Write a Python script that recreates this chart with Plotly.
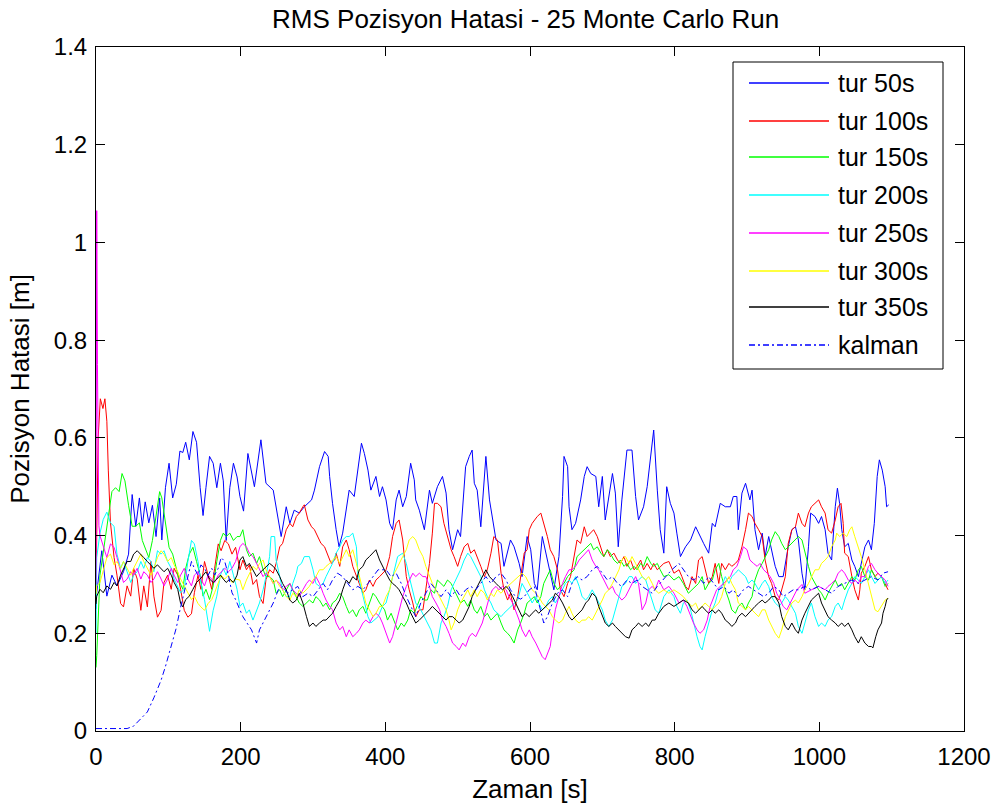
import plotly.graph_objects as go

# ---------------- data ----------------
tur50_x = [0, 1, 8, 15, 22, 29, 38, 45, 50, 55, 60, 64, 68, 73, 78, 83, 88, 91, 96, 101, 106, 111, 116, 120, 124, 129, 134, 139, 144, 148, 152, 157, 162, 167, 172, 176, 180, 185, 190, 195,
           199, 204, 210, 219, 228, 235, 245, 249, 256, 263, 268, 274, 281, 288, 298, 302, 309, 316, 321, 323, 327, 332, 336, 341, 346, 350, 357, 362, 367, 371, 376, 380, 387,
           392, 396, 401, 406, 410, 415, 419, 424, 429, 435, 440, 442, 447, 454, 461, 465, 472, 479, 484, 488, 493, 500, 504, 511, 516, 520, 523, 527, 532, 539, 544, 548, 553, 560, 564, 573, 578,
           585, 589, 596, 601, 606, 610, 617, 622, 629, 633, 640, 645, 647, 652, 654, 658, 663, 670, 675, 679, 684, 691, 695, 700, 704, 709, 714, 718, 722, 727, 734, 741, 746, 750, 757, 762, 767, 771, 776,
           780, 785, 789, 794, 799, 803, 808, 815, 822, 829, 833, 840, 847, 852, 856, 863, 870, 877, 881, 886, 888, 893, 898, 904, 907, 911, 916, 921, 925, 930, 937, 939, 944, 950, 957, 962, 967,
           971, 976, 980, 985, 988, 994, 999, 1003, 1008, 1012, 1017, 1022, 1025, 1028, 1031, 1035, 1040, 1045, 1049, 1054, 1058, 1063, 1068, 1072, 1076, 1080, 1083, 1087, 1091, 1093, 1096]
tur50_y = [0.25, 0.283, 0.369, 0.276, 0.319, 0.297, 0.326, 0.362, 0.484, 0.419, 0.477, 0.419, 0.469, 0.426, 0.462, 0.398, 0.477, 0.391, 0.498, 0.548, 0.477, 0.505, 0.573, 0.570, 0.591, 0.555, 0.613, 0.591, 0.498, 0.441, 0.498, 0.562, 0.548, 0.498, 0.548, 0.512, 0.39, 0.498, 0.548, 0.52,
           0.48, 0.45, 0.568, 0.50, 0.596, 0.507, 0.493, 0.459, 0.398, 0.459, 0.425, 0.452, 0.446, 0.459, 0.473, 0.493, 0.541, 0.572, 0.562, 0.521, 0.466, 0.412, 0.377, 0.405, 0.459, 0.493, 0.48, 0.534, 0.589, 0.568, 0.534, 0.493, 0.521,
           0.48, 0.50, 0.473, 0.425, 0.412, 0.473, 0.493, 0.459, 0.48, 0.548, 0.514, 0.473, 0.452, 0.412, 0.493, 0.466, 0.50, 0.521, 0.487, 0.412, 0.371, 0.412, 0.398, 0.541, 0.562, 0.575, 0.507, 0.493, 0.418, 0.562, 0.473, 0.439, 0.391, 0.384, 0.337, 0.391, 0.377,
           0.343, 0.316, 0.398, 0.371, 0.302, 0.289, 0.398, 0.364, 0.316, 0.289, 0.357, 0.48, 0.562, 0.541, 0.459, 0.412, 0.425, 0.473, 0.521, 0.541, 0.527, 0.521, 0.459, 0.521, 0.432, 0.48, 0.527, 0.487, 0.377, 0.473, 0.575, 0.575, 0.48, 0.432, 0.459, 0.50, 0.562, 0.616, 0.493,
           0.412, 0.364, 0.50, 0.466, 0.446, 0.405, 0.357, 0.377, 0.391, 0.418, 0.405, 0.384, 0.364, 0.425, 0.418, 0.466, 0.459, 0.459, 0.48, 0.48, 0.412, 0.487, 0.507, 0.473, 0.493, 0.412, 0.371, 0.405, 0.357, 0.398, 0.35, 0.337, 0.316, 0.316, 0.377, 0.412, 0.418,
           0.391, 0.323, 0.289, 0.377, 0.446, 0.439, 0.425, 0.439, 0.412, 0.364, 0.35, 0.459, 0.497, 0.466, 0.412, 0.377, 0.384, 0.35, 0.337, 0.316, 0.343, 0.377, 0.391, 0.371, 0.425, 0.521, 0.555, 0.534, 0.50, 0.459, 0.463]

tur100_x = [0, 3, 6, 9.6, 12.3, 15, 17, 20, 25, 29, 34, 38, 43, 48, 52, 57, 62, 66, 71, 76, 80, 85, 90, 94, 99, 104, 108, 113, 117, 122, 127, 132, 136, 141, 145, 150, 155, 160, 164, 169, 173, 178, 183, 188, 193,
            199, 203, 208, 212, 217, 222, 226, 231, 235, 240, 245, 249, 254, 258, 263, 268, 272, 277, 281, 286, 288, 293, 298, 302, 307, 311, 316, 321, 325, 330, 332, 337, 341, 346, 350, 355, 360, 364, 369, 373, 378, 383, 387,
            392, 401, 406, 410, 415, 419, 424, 429, 433, 438, 442, 447, 452, 456, 461, 465, 468, 472, 477, 481, 486, 491, 495, 500, 504, 509, 514, 518, 523, 527, 532, 537, 541, 546, 550, 555, 560, 564, 569, 573, 578, 583, 587, 592, 596,
            599, 603, 610, 615, 619, 624, 628, 633, 638, 642, 647, 652, 656, 661, 665, 670, 675, 679, 684, 688, 693, 698, 702, 707, 711, 716, 721, 725, 730, 734, 739, 744, 748, 753, 757, 762, 767, 771, 776,
            785, 792, 799, 806, 810, 815, 819, 824, 829, 833, 838, 842, 847, 852, 856, 861, 865, 870, 875, 879, 884, 888, 893, 898, 902, 907, 911, 916, 921, 925, 930, 934, 939, 944, 948, 953, 957, 962, 967,
            971, 976, 980, 985, 989, 994, 999, 1003, 1008, 1012, 1017, 1022, 1026, 1030, 1033, 1035, 1040, 1045, 1049, 1054, 1056, 1058, 1063, 1068, 1072, 1077, 1081, 1086, 1091, 1095]
tur100_y = [0.3, 0.6, 0.68, 0.66, 0.68, 0.634, 0.534, 0.426, 0.355, 0.319, 0.261, 0.254, 0.297, 0.276, 0.333, 0.311, 0.247, 0.297, 0.254, 0.347, 0.276, 0.233, 0.247, 0.304, 0.319, 0.29, 0.333, 0.319, 0.29, 0.247, 0.233, 0.24, 0.283, 0.319, 0.29, 0.347, 0.319, 0.29, 0.333, 0.383, 0.369, 0.39, 0.383, 0.362, 0.376,
            0.33, 0.35, 0.33, 0.34, 0.30, 0.31, 0.275, 0.261, 0.31, 0.33, 0.323, 0.343, 0.377, 0.384, 0.412, 0.425, 0.418, 0.439, 0.446, 0.459, 0.463, 0.432, 0.418, 0.412, 0.398, 0.384, 0.377, 0.357, 0.343, 0.35, 0.364, 0.337, 0.377, 0.391, 0.371, 0.337, 0.316, 0.302, 0.282, 0.289, 0.309, 0.296, 0.309,
            0.316, 0.33, 0.357, 0.398, 0.425, 0.432, 0.391, 0.316, 0.289, 0.262, 0.234, 0.248, 0.248, 0.289, 0.343, 0.405, 0.466, 0.466, 0.459, 0.425, 0.398, 0.371, 0.357, 0.337, 0.357, 0.377, 0.384, 0.364, 0.371, 0.357, 0.337, 0.316, 0.33, 0.364, 0.398, 0.391, 0.323, 0.289, 0.268, 0.282, 0.248, 0.275, 0.316, 0.364, 0.371,
            0.412, 0.425, 0.439, 0.446, 0.425, 0.398, 0.371, 0.357, 0.33, 0.289, 0.275, 0.302, 0.316, 0.357, 0.391, 0.384, 0.418, 0.398, 0.405, 0.412, 0.398, 0.377, 0.357, 0.371, 0.357, 0.364, 0.35, 0.343, 0.357, 0.337, 0.35, 0.33, 0.337, 0.35, 0.33, 0.343, 0.33, 0.343, 0.33,
            0.343, 0.347, 0.323, 0.33, 0.316, 0.296, 0.289, 0.316, 0.302, 0.35, 0.357, 0.33, 0.302, 0.316, 0.343, 0.302, 0.343, 0.33, 0.343, 0.337, 0.343, 0.35, 0.377, 0.412, 0.446, 0.439, 0.425, 0.412, 0.398, 0.35, 0.316, 0.302, 0.275, 0.268, 0.289, 0.316, 0.384, 0.412, 0.418,
            0.446, 0.425, 0.418, 0.446, 0.459, 0.466, 0.473, 0.459, 0.446, 0.412, 0.405, 0.432, 0.459, 0.466, 0.425, 0.364, 0.357, 0.316, 0.289, 0.268, 0.289, 0.323, 0.337, 0.357, 0.33, 0.316, 0.323, 0.316, 0.302, 0.289]

tur150_x = [0, 1, 5.5, 12, 17, 22, 27, 32, 36, 40, 45, 50, 55, 60, 64, 68, 73, 78, 83, 88, 91, 96, 101, 106, 111, 116, 120, 124, 129, 134, 139, 144, 148, 152, 157, 162, 167, 172, 176, 180, 185, 190, 195,
            199, 203, 208, 212, 217, 222, 226, 231, 235, 240, 245, 249, 254, 258, 263, 268, 272, 277, 281, 286, 291, 295, 300, 304, 309, 314, 318, 323, 327, 332, 337, 341, 346, 350, 355, 360, 364, 369, 373, 378, 383, 387,
            392, 399, 403, 408, 412, 417, 422, 426, 431, 435, 440, 445, 449, 454, 458, 463, 468, 472, 477, 481, 486, 491, 495, 500, 504, 509, 514, 518, 523, 527, 532, 537, 541, 546, 550, 555, 560, 564, 569, 573, 578, 583,
            587, 592, 596, 601, 606, 610, 615, 619, 624, 628, 633, 638, 642, 647, 652, 656, 661, 665, 670, 675, 679, 684, 688, 693, 698, 702, 707, 711, 716, 721, 725, 730, 734, 739, 744, 748, 753, 757, 762, 767, 771, 776,
            780, 785, 792, 799, 806, 812, 819, 824, 829, 833, 838, 842, 847, 852, 856, 861, 865, 870, 875, 879, 884, 888, 893, 898, 902, 907, 911, 916, 921, 925, 930, 934, 939, 944, 948, 953, 957, 962, 967,
            971, 976, 980, 985, 989, 994, 999, 1003, 1008, 1012, 1017, 1022, 1026, 1031, 1035, 1040, 1045, 1049, 1054, 1058, 1063, 1068, 1072, 1077, 1081, 1086, 1091, 1095]
tur150_y = [0.13, 0.154, 0.319, 0.39, 0.44, 0.49, 0.498, 0.49, 0.527, 0.512, 0.462, 0.419, 0.419, 0.426, 0.39, 0.376, 0.355, 0.39, 0.44, 0.49, 0.477, 0.426, 0.376, 0.362, 0.333, 0.304, 0.29, 0.333, 0.362, 0.376, 0.347, 0.319, 0.276, 0.29, 0.269, 0.297, 0.347, 0.39, 0.405, 0.398, 0.405, 0.39, 0.398,
            0.398, 0.412, 0.371, 0.357, 0.364, 0.343, 0.357, 0.33, 0.316, 0.316, 0.309, 0.282, 0.289, 0.275, 0.289, 0.302, 0.289, 0.275, 0.262, 0.255, 0.262, 0.268, 0.262, 0.275, 0.268, 0.255, 0.262, 0.248, 0.262, 0.268, 0.282, 0.275, 0.255, 0.241, 0.248, 0.234, 0.248, 0.255, 0.241, 0.262, 0.282, 0.275,
            0.262, 0.248, 0.227, 0.241, 0.227, 0.207, 0.221, 0.214, 0.227, 0.248, 0.241, 0.262, 0.275, 0.268, 0.268, 0.289, 0.282, 0.309, 0.302, 0.296, 0.309, 0.302, 0.289, 0.275, 0.262, 0.268, 0.255, 0.268, 0.248, 0.241, 0.255, 0.234, 0.241, 0.227, 0.234, 0.241, 0.221, 0.207, 0.2, 0.193, 0.18, 0.207,
            0.221, 0.241, 0.262, 0.268, 0.275, 0.262, 0.275, 0.302, 0.316, 0.33, 0.302, 0.289, 0.296, 0.302, 0.316, 0.323, 0.33, 0.357, 0.364, 0.371, 0.377, 0.384, 0.371, 0.377, 0.364, 0.357, 0.371, 0.364, 0.35, 0.343, 0.35, 0.337, 0.343, 0.33, 0.337, 0.33, 0.343, 0.337, 0.357, 0.343, 0.337, 0.343,
            0.33, 0.316, 0.32, 0.309, 0.316, 0.302, 0.282, 0.289, 0.296, 0.302, 0.316, 0.289, 0.302, 0.309, 0.33, 0.343, 0.316, 0.289, 0.268, 0.248, 0.241, 0.255, 0.262, 0.248, 0.262, 0.275, 0.309, 0.33, 0.343, 0.357, 0.371, 0.391, 0.408, 0.398, 0.384, 0.371, 0.377, 0.384, 0.391,
            0.398, 0.391, 0.364, 0.337, 0.316, 0.302, 0.289, 0.282, 0.268, 0.282, 0.296, 0.309, 0.296, 0.302, 0.289, 0.302, 0.316, 0.309, 0.33, 0.337, 0.316, 0.309, 0.33, 0.316, 0.309, 0.316, 0.296, 0.302]

tur200_x = [0, 1, 5.5, 10, 15, 20, 25, 29, 34, 38, 43, 48, 52, 57, 62, 66, 71, 76, 80, 85, 90, 94, 99, 104, 108, 113, 117, 122, 127, 132, 136, 141, 145, 150, 155, 157, 162, 167, 172, 176, 180, 185, 190, 195,
            199, 203, 208, 212, 217, 222, 226, 231, 235, 240, 242, 247, 249, 254, 258, 263, 268, 272, 277, 279, 284, 288, 295, 300, 304, 309, 314, 318, 323, 327, 332, 337, 341, 346, 350, 355, 360, 362, 367, 371, 376, 380, 385, 390,
            396, 401, 406, 410, 417, 424, 429, 433, 438, 442, 449, 456, 463, 468, 472, 477, 481, 486, 491, 495, 500, 504, 509, 514, 518, 523, 527, 532, 537, 541, 546, 550, 555, 560, 564, 569, 573, 578, 583,
            589, 594, 599, 603, 608, 612, 617, 622, 626, 631, 635, 640, 645, 649, 654, 658, 663, 668, 672, 677, 681, 686, 691, 695, 700, 704, 709, 714, 718, 723, 727, 732, 737, 741, 746, 750, 755, 760, 764, 769, 773, 778,
            785, 792, 799, 803, 808, 812, 817, 822, 826, 831, 835, 838, 842, 847, 852, 856, 861, 865, 870, 875, 879, 884, 888, 893, 898, 902, 907, 911, 916, 921, 925, 930, 934, 939, 944, 948, 953, 957, 962, 967,
            971, 976, 980, 985, 989, 994, 999, 1003, 1008, 1012, 1017, 1022, 1026, 1031, 1035, 1040, 1045, 1049, 1054, 1058, 1063, 1068, 1072, 1077, 1081, 1086, 1091, 1095]
tur200_y = [0.2, 0.355, 0.405, 0.433, 0.448, 0.426, 0.419, 0.362, 0.333, 0.347, 0.326, 0.304, 0.319, 0.326, 0.347, 0.333, 0.355, 0.347, 0.326, 0.369, 0.362, 0.369, 0.347, 0.333, 0.311, 0.297, 0.283, 0.29, 0.347, 0.39, 0.383, 0.347, 0.304, 0.269, 0.218, 0.204, 0.247, 0.276, 0.319, 0.333, 0.319, 0.347, 0.319, 0.29,
            0.255, 0.262, 0.241, 0.248, 0.227, 0.248, 0.262, 0.289, 0.316, 0.357, 0.398, 0.398, 0.35, 0.316, 0.289, 0.275, 0.275, 0.302, 0.323, 0.337, 0.343, 0.357, 0.357, 0.33, 0.302, 0.296, 0.302, 0.316, 0.33, 0.343, 0.364, 0.377, 0.391, 0.398, 0.398, 0.405, 0.377, 0.323, 0.289, 0.262, 0.234, 0.221, 0.227, 0.234,
            0.255, 0.262, 0.29, 0.316, 0.357, 0.364, 0.343, 0.316, 0.289, 0.262, 0.248, 0.227, 0.207, 0.18, 0.18, 0.221, 0.234, 0.255, 0.289, 0.302, 0.316, 0.33, 0.35, 0.364, 0.357, 0.343, 0.33, 0.316, 0.289, 0.275, 0.262, 0.248, 0.241, 0.234, 0.241, 0.248, 0.255, 0.262, 0.268,
            0.302, 0.289, 0.275, 0.262, 0.275, 0.262, 0.248, 0.255, 0.268, 0.275, 0.262, 0.275, 0.289, 0.302, 0.309, 0.302, 0.316, 0.296, 0.275, 0.268, 0.275, 0.289, 0.275, 0.262, 0.248, 0.227, 0.214, 0.227, 0.248, 0.275, 0.296, 0.302, 0.316, 0.316, 0.302, 0.309, 0.316, 0.309, 0.289, 0.268, 0.248, 0.241,
            0.275, 0.289, 0.275, 0.255, 0.241, 0.262, 0.268, 0.248, 0.221, 0.193, 0.173, 0.166, 0.193, 0.221, 0.248, 0.262, 0.289, 0.296, 0.316, 0.302, 0.316, 0.323, 0.33, 0.323, 0.316, 0.302, 0.309, 0.302, 0.289, 0.302, 0.309, 0.296, 0.275, 0.262, 0.255, 0.262, 0.275, 0.268, 0.255, 0.241,
            0.214, 0.2, 0.221, 0.248, 0.262, 0.234, 0.214, 0.221, 0.214, 0.227, 0.234, 0.255, 0.262, 0.248, 0.268, 0.289, 0.302, 0.316, 0.309, 0.302, 0.316, 0.33, 0.316, 0.302, 0.309, 0.316, 0.302, 0.309]

tur250_x = [0, 1, 2, 4, 5.5, 10, 15, 20, 25, 29, 34, 38, 43, 48, 52, 57, 62, 66, 71, 76, 80, 85, 90, 94, 99, 104, 108, 113, 117, 122, 127, 132, 136, 141, 145, 150, 155, 160, 164, 169, 173, 178, 183, 188, 193,
            199, 203, 208, 212, 217, 222, 226, 231, 235, 240, 245, 249, 254, 258, 263, 268, 272, 277, 281, 286, 291, 295, 300, 304, 309, 314, 318, 323, 327, 332, 337, 341, 346, 350, 355, 360, 364, 369, 373, 378, 383, 387,
            392, 396, 401, 406, 410, 415, 419, 424, 429, 433, 438, 442, 447, 452, 456, 461, 465, 470, 475, 479, 484, 488, 493, 498, 502, 507, 511, 516, 520, 525, 530, 534, 539, 544, 548, 553, 557, 562, 567, 571, 576, 580,
            585, 589, 594, 599, 603, 608, 612, 617, 621, 624, 628, 631, 635, 640, 645, 649, 654, 658, 663, 668, 672, 677, 681, 686, 691, 695, 700, 704, 709, 714, 718, 723, 727, 732, 737, 741, 746, 750, 755, 760, 764, 769, 773,
            778, 785, 792, 799, 806, 812, 817, 822, 826, 831, 835, 840, 845, 849, 854, 858, 863, 868, 872, 877, 881, 886, 891, 895, 900, 904, 909, 914, 918, 923, 928, 932, 937, 941, 946, 950, 955, 960, 964, 969,
            976, 980, 989, 999, 1008, 1012, 1017, 1022, 1026, 1031, 1035, 1040, 1045, 1049, 1054, 1058, 1063, 1068, 1072, 1077, 1081, 1086, 1091, 1095]
tur250_y = [0.3, 1.065, 0.75, 0.42, 0.40, 0.376, 0.355, 0.383, 0.376, 0.355, 0.326, 0.304, 0.311, 0.326, 0.319, 0.333, 0.311, 0.326, 0.319, 0.304, 0.311, 0.326, 0.311, 0.297, 0.311, 0.333, 0.319, 0.304, 0.319, 0.333, 0.311, 0.297, 0.319, 0.326, 0.311, 0.297, 0.319, 0.311, 0.304, 0.319, 0.326, 0.333, 0.326, 0.333, 0.347,
            0.377, 0.384, 0.377, 0.364, 0.357, 0.343, 0.33, 0.316, 0.323, 0.316, 0.302, 0.309, 0.302, 0.289, 0.296, 0.302, 0.289, 0.282, 0.275, 0.289, 0.302, 0.309, 0.302, 0.316, 0.302, 0.282, 0.268, 0.255, 0.248, 0.221, 0.207, 0.214, 0.193, 0.207, 0.193, 0.2, 0.207, 0.221, 0.227, 0.221, 0.234, 0.241,
            0.234, 0.221, 0.2, 0.18, 0.193, 0.221, 0.248, 0.275, 0.296, 0.309, 0.323, 0.316, 0.323, 0.316, 0.316, 0.296, 0.275, 0.262, 0.248, 0.227, 0.214, 0.2, 0.18, 0.173, 0.166, 0.18, 0.173, 0.193, 0.2, 0.193, 0.207, 0.221, 0.248, 0.275, 0.289, 0.296, 0.289, 0.296, 0.289, 0.275, 0.262, 0.248,
            0.227, 0.207, 0.193, 0.207, 0.193, 0.18, 0.166, 0.152, 0.146, 0.159, 0.173, 0.207, 0.248, 0.275, 0.302, 0.316, 0.33, 0.33, 0.337, 0.35, 0.357, 0.364, 0.371, 0.35, 0.337, 0.33, 0.316, 0.302, 0.289, 0.296, 0.282, 0.275, 0.268, 0.275, 0.289, 0.302, 0.316, 0.302, 0.248, 0.262, 0.289, 0.296, 0.289,
            0.309, 0.289, 0.296, 0.282, 0.262, 0.268, 0.255, 0.234, 0.221, 0.207, 0.2, 0.207, 0.227, 0.255, 0.275, 0.289, 0.296, 0.302, 0.309, 0.316, 0.33, 0.337, 0.357, 0.377, 0.371, 0.35, 0.343, 0.337, 0.343, 0.33, 0.323, 0.316, 0.302, 0.282, 0.268, 0.255, 0.248, 0.262, 0.275, 0.289,
            0.3, 0.282, 0.289, 0.296, 0.289, 0.296, 0.302, 0.309, 0.323, 0.33, 0.323, 0.309, 0.302, 0.309, 0.302, 0.316, 0.316, 0.337, 0.343, 0.33, 0.323, 0.316, 0.309, 0.296]

tur300_x = [0, 1, 5.5, 10, 15, 20, 25, 29, 34, 38, 43, 48, 52, 57, 62, 66, 71, 76, 80, 85, 90, 94, 99, 104, 108, 113, 117, 122, 127, 132, 136, 141, 145, 150, 155, 160, 164, 169, 173, 178, 183, 188, 193,
            199, 203, 208, 212, 217, 222, 226, 231, 235, 240, 245, 249, 254, 258, 263, 268, 272, 277, 281, 286, 291, 295, 300, 304, 309, 314, 318, 323, 327, 332, 337, 341, 346, 350, 355, 360, 364, 369, 373, 378, 383, 387,
            392, 396, 401, 406, 410, 415, 419, 424, 429, 433, 438, 442, 447, 452, 456, 461, 465, 470, 475, 479, 484, 488, 491, 495, 500, 504, 509, 514, 518, 523, 527, 532, 537, 541, 546, 550, 555, 560, 564, 569, 573, 578, 583,
            589, 594, 599, 603, 608, 612, 617, 622, 626, 631, 635, 640, 645, 649, 654, 658, 663, 668, 672, 677, 681, 686, 691, 695, 700, 704, 709, 714, 718, 723, 727, 732, 737, 741, 746, 750, 755, 760, 764, 769, 773,
            778, 785, 792, 799, 806, 812, 819, 824, 829, 833, 838, 842, 847, 852, 856, 861, 865, 870, 875, 879, 884, 888, 893, 898, 902, 907, 911, 916, 921, 925, 930, 934, 939, 944, 948, 953, 957, 962, 967,
            971, 976, 980, 985, 989, 994, 999, 1003, 1008, 1012, 1017, 1022, 1024, 1028, 1033, 1038, 1042, 1045, 1049, 1054, 1058, 1063, 1068, 1072, 1077, 1081, 1086, 1091, 1095]
tur300_y = [0.28, 0.297, 0.304, 0.326, 0.355, 0.362, 0.34, 0.347, 0.333, 0.347, 0.333, 0.319, 0.333, 0.347, 0.362, 0.347, 0.333, 0.319, 0.333, 0.355, 0.369, 0.362, 0.347, 0.355, 0.34, 0.326, 0.311, 0.297, 0.283, 0.269, 0.276, 0.261, 0.254, 0.247, 0.261, 0.269, 0.283, 0.304, 0.319, 0.311, 0.319, 0.304, 0.311,
            0.309, 0.289, 0.309, 0.323, 0.337, 0.33, 0.343, 0.35, 0.33, 0.316, 0.302, 0.309, 0.296, 0.289, 0.275, 0.268, 0.282, 0.275, 0.289, 0.282, 0.289, 0.296, 0.309, 0.316, 0.33, 0.33, 0.337, 0.343, 0.35, 0.357, 0.343, 0.357, 0.371, 0.357, 0.371, 0.343, 0.316, 0.289, 0.262, 0.248, 0.234, 0.241,
            0.255, 0.255, 0.275, 0.289, 0.316, 0.33, 0.343, 0.357, 0.371, 0.391, 0.398, 0.391, 0.371, 0.357, 0.337, 0.316, 0.302, 0.289, 0.275, 0.262, 0.248, 0.227, 0.207, 0.221, 0.248, 0.262, 0.275, 0.289, 0.275, 0.289, 0.275, 0.289, 0.282, 0.268, 0.282, 0.275, 0.289, 0.282, 0.289, 0.296, 0.302, 0.309, 0.316,
            0.323, 0.316, 0.302, 0.289, 0.282, 0.275, 0.262, 0.255, 0.248, 0.234, 0.227, 0.221, 0.227, 0.241, 0.255, 0.241, 0.227, 0.221, 0.227, 0.227, 0.234, 0.227, 0.241, 0.255, 0.268, 0.282, 0.289, 0.302, 0.316, 0.33, 0.35, 0.357, 0.343, 0.357, 0.343, 0.33, 0.316, 0.309, 0.316, 0.302, 0.289,
            0.282, 0.289, 0.282, 0.289, 0.282, 0.275, 0.262, 0.255, 0.262, 0.248, 0.255, 0.262, 0.255, 0.248, 0.255, 0.262, 0.275, 0.302, 0.316, 0.302, 0.289, 0.262, 0.255, 0.248, 0.255, 0.248, 0.241, 0.234, 0.248, 0.248, 0.227, 0.214, 0.2, 0.19, 0.207, 0.234, 0.248, 0.262, 0.268,
            0.262, 0.275, 0.289, 0.302, 0.316, 0.33, 0.33, 0.343, 0.35, 0.357, 0.377, 0.391, 0.405, 0.398, 0.405, 0.398, 0.412, 0.418, 0.398, 0.377, 0.357, 0.33, 0.302, 0.275, 0.248, 0.244, 0.255, 0.268, 0.272]

tur350_x = [0, 1, 5.5, 10, 15, 20, 25, 29, 34, 38, 43, 48, 52, 57, 62, 66, 71, 76, 80, 85, 90, 94, 99, 104, 108, 113, 117, 120, 124, 129, 134, 139, 144, 148, 152, 157, 162, 167, 172, 176, 180, 185, 190, 195,
            199, 203, 208, 212, 217, 222, 226, 231, 235, 240, 245, 249, 254, 258, 263, 268, 272, 277, 281, 286, 291, 295, 300, 304, 309, 314, 318, 323, 327, 332, 337, 341, 346, 350, 355, 360, 364, 369, 373, 378, 383, 387,
            392, 396, 401, 406, 410, 415, 419, 424, 429, 433, 438, 442, 447, 452, 456, 461, 465, 470, 475, 479, 484, 488, 493, 498, 502, 507, 511, 516, 520, 525, 530, 534, 539, 544, 548, 553, 557, 562, 567, 571, 576, 580,
            585, 589, 594, 599, 603, 608, 612, 617, 622, 626, 631, 635, 640, 645, 649, 654, 658, 663, 668, 672, 677, 681, 686, 691, 695, 700, 704, 709, 714, 718, 723, 727, 732, 737, 741, 746, 750, 755, 760, 764, 769, 773,
            778, 785, 792, 799, 806, 812, 819, 824, 829, 833, 838, 842, 847, 852, 856, 861, 865, 870, 875, 879, 884, 888, 893, 898, 902, 907, 911, 916, 921, 925, 930, 934, 939, 944, 948, 953, 957, 962, 967,
            971, 976, 980, 985, 989, 994, 999, 1003, 1008, 1012, 1017, 1022, 1026, 1031, 1035, 1040, 1045, 1049, 1054, 1058, 1063, 1068, 1072, 1074, 1078, 1081, 1086, 1088, 1091, 1093, 1095]
tur350_y = [0.26, 0.276, 0.29, 0.283, 0.297, 0.29, 0.304, 0.297, 0.319, 0.333, 0.347, 0.347, 0.362, 0.369, 0.362, 0.355, 0.347, 0.34, 0.333, 0.34, 0.333, 0.326, 0.333, 0.319, 0.304, 0.29, 0.261, 0.254, 0.269, 0.276, 0.29, 0.304, 0.311, 0.319, 0.326, 0.311, 0.304, 0.311, 0.319, 0.311, 0.304, 0.311, 0.304, 0.319,
            0.35, 0.357, 0.337, 0.343, 0.33, 0.316, 0.323, 0.33, 0.337, 0.343, 0.337, 0.33, 0.316, 0.302, 0.289, 0.268, 0.262, 0.268, 0.282, 0.262, 0.234, 0.214, 0.221, 0.214, 0.221, 0.227, 0.227, 0.234, 0.241, 0.255, 0.268, 0.289, 0.309, 0.302, 0.316, 0.309, 0.33, 0.337, 0.35, 0.357, 0.364, 0.371,
            0.35, 0.337, 0.323, 0.309, 0.302, 0.296, 0.289, 0.275, 0.262, 0.248, 0.234, 0.221, 0.227, 0.234, 0.241, 0.248, 0.255, 0.248, 0.241, 0.234, 0.227, 0.234, 0.234, 0.227, 0.221, 0.227, 0.241, 0.255, 0.275, 0.289, 0.302, 0.316, 0.33, 0.316, 0.309, 0.302, 0.296, 0.289, 0.296, 0.289, 0.275, 0.262,
            0.248, 0.234, 0.241, 0.234, 0.241, 0.248, 0.241, 0.248, 0.255, 0.262, 0.268, 0.282, 0.275, 0.262, 0.248, 0.234, 0.227, 0.234, 0.241, 0.248, 0.262, 0.268, 0.282, 0.275, 0.255, 0.234, 0.221, 0.214, 0.221, 0.214, 0.207, 0.2, 0.193, 0.19, 0.207, 0.214, 0.221, 0.214, 0.221, 0.214, 0.227, 0.227,
            0.241, 0.255, 0.262, 0.255, 0.262, 0.268, 0.262, 0.248, 0.241, 0.248, 0.255, 0.248, 0.241, 0.248, 0.241, 0.248, 0.241, 0.227, 0.221, 0.214, 0.221, 0.234, 0.241, 0.234, 0.241, 0.248, 0.255, 0.262, 0.268, 0.262, 0.268, 0.275, 0.275, 0.262, 0.234, 0.214, 0.207, 0.221, 0.207,
            0.2, 0.227, 0.241, 0.255, 0.268, 0.275, 0.282, 0.262, 0.248, 0.234, 0.227, 0.221, 0.214, 0.221, 0.214, 0.221, 0.207, 0.193, 0.18, 0.193, 0.18, 0.173, 0.173, 0.17, 0.193, 0.207, 0.221, 0.241, 0.255, 0.268, 0.272]

kalman_x = [0, 1, 43, 52, 62, 71, 80, 90, 96, 104, 111, 116, 122, 127, 132, 136, 141, 145, 150, 155, 160, 164, 169, 173, 178, 183, 188, 193, 197,
            203, 215, 222, 226, 231, 240, 245, 252, 258, 265, 272, 279, 286, 293, 300, 307, 314, 320, 327, 334, 341, 348, 355, 362, 369, 376, 383, 390,
            401, 408, 415, 422, 429, 435, 442, 449, 456, 463, 470, 477, 484, 491, 498, 504, 511, 518, 525, 532, 539, 546, 553, 560, 567, 573, 580,
            587, 592, 599, 606, 612, 619, 624, 631, 638, 645, 652, 658, 665, 672, 679, 686, 693, 700, 707, 714, 721, 727, 734, 741, 748, 755, 762, 769, 776,
            787, 796, 806, 812, 819, 826, 833, 840, 847, 854, 861, 868, 875, 881, 888, 895, 902, 909, 916, 923, 930, 937, 944, 950, 957, 964,
            971, 980, 989, 999, 1008, 1017, 1026, 1035, 1045, 1054, 1063, 1072, 1081, 1088, 1095]
kalman_y = [0.005, 0.005, 0.005, 0.01, 0.025, 0.039, 0.068, 0.104, 0.132, 0.175, 0.211, 0.247, 0.283, 0.311, 0.347, 0.333, 0.319, 0.34, 0.333, 0.319, 0.333, 0.319, 0.333, 0.355, 0.347, 0.319, 0.283, 0.269, 0.254,
            0.234, 0.207, 0.18, 0.207, 0.221, 0.248, 0.262, 0.289, 0.296, 0.282, 0.289, 0.296, 0.275, 0.282, 0.275, 0.289, 0.302, 0.289, 0.309, 0.323, 0.316, 0.302, 0.289, 0.296, 0.289, 0.302, 0.316, 0.33,
            0.33, 0.316, 0.323, 0.302, 0.275, 0.255, 0.234, 0.262, 0.282, 0.302, 0.289, 0.275, 0.289, 0.275, 0.289, 0.275, 0.289, 0.296, 0.289, 0.302, 0.316, 0.302, 0.316, 0.323, 0.309, 0.289, 0.275,
            0.27, 0.275, 0.289, 0.296, 0.262, 0.221, 0.234, 0.262, 0.282, 0.289, 0.275, 0.302, 0.316, 0.309, 0.316, 0.33, 0.337, 0.323, 0.309, 0.316, 0.302, 0.296, 0.309, 0.302, 0.309, 0.296, 0.289, 0.282, 0.296,
            0.316, 0.33, 0.343, 0.33, 0.316, 0.309, 0.316, 0.302, 0.316, 0.302, 0.289, 0.296, 0.282, 0.289, 0.275, 0.289, 0.296, 0.289, 0.282, 0.275, 0.282, 0.296, 0.289, 0.275, 0.282, 0.289,
            0.289, 0.296, 0.289, 0.296, 0.289, 0.282, 0.296, 0.302, 0.309, 0.302, 0.309, 0.316, 0.309, 0.323, 0.326]

series_names = ["tur 50s", "tur 100s", "tur 150s", "tur 200s", "tur 250s", "tur 300s", "tur 350s", "kalman"]
series_colors = ["#0000ff", "#ff0000", "#00ff00", "#00ffff", "#ff00ff", "#ffff00", "#000000", "#0000ff"]
series_dash = ["solid"] * 7 + ["6px,3px,2px,3px"]
series_x = [tur50_x, tur100_x, tur150_x, tur200_x, tur250_x, tur300_x, tur350_x, kalman_x]
series_y = [tur50_y, tur100_y, tur150_y, tur200_y, tur250_y, tur300_y, tur350_y, kalman_y]

x_ticks = [0, 200, 400, 600, 800, 1000, 1200]
y_ticks = [0, 0.2, 0.4, 0.6, 0.8, 1.0, 1.2, 1.4]
y_ticktext = ["0", "0.2", "0.4", "0.6", "0.8", "1", "1.2", "1.4"]

# ---------------- figure ----------------
FONT = "Liberation Sans, Arial, Helvetica, sans-serif"
W, H = 996, 805
L, R, T, B = 96, 32, 47, 74
PW, PH = W - L - R, H - T - B

fig = go.Figure()
for nm, col, dsh, xs, ys in zip(series_names, series_colors, series_dash, series_x, series_y):
    fig.add_trace(go.Scatter(x=xs, y=ys, mode="lines", name=nm,
                             line=dict(color=col, width=1, dash=dsh),
                             showlegend=False))

def px_x(p):
    return (p - L) / PW

def px_y(p):
    return (H - B - p) / PH

# legend drawn as box + line samples + text
shapes = [dict(type="rect", xref="paper", yref="paper",
               x0=px_x(733), x1=px_x(943), y0=px_y(369), y1=px_y(62),
               line=dict(color="black", width=1), fillcolor="white", layer="above")]
annotations = []
entry_y = [83, 121, 157, 195, 233, 271, 307, 345]
for nm, col, dsh, ey in zip(series_names, series_colors, series_dash, entry_y):
    shapes.append(dict(type="line", xref="paper", yref="paper",
                       x0=px_x(749), x1=px_x(829), y0=px_y(ey), y1=px_y(ey),
                       line=dict(color=col, width=1.3, dash=dsh), layer="above"))
    annotations.append(dict(xref="paper", yref="paper", x=px_x(836), y=px_y(ey),
                            xanchor="left", yanchor="middle", text=nm, showarrow=False,
                            font=dict(family=FONT, size=25, color="black")))

fig.update_layout(
    width=W, height=H,
    margin=dict(l=L, r=R, t=T, b=B, pad=0, autoexpand=False),
    paper_bgcolor="white", plot_bgcolor="white",
    font=dict(family=FONT, color="black", size=24),
    title=dict(text="RMS Pozisyon Hatasi - 25 Monte Carlo Run", x=0.495, xref="paper",
               y=1 - 19 / H, yref="container", yanchor="middle",
               font=dict(family=FONT, size=26, color="black")),
    shapes=shapes, annotations=annotations,
    showlegend=False,
)
fig.update_xaxes(range=[0, 1200], tickvals=x_ticks, ticktext=[str(v) for v in x_ticks],
                 showgrid=False, zeroline=False, showline=True, linecolor="black", linewidth=1,
                 mirror="ticks", ticks="inside", ticklen=9, tickcolor="black", tickwidth=1,
                 automargin=False, ticklabelstandoff=4,
                 tickfont=dict(family=FONT, size=24, color="black"),
                 title=dict(text="Zaman [s]", font=dict(family=FONT, size=26, color="black"), standoff=11))
fig.update_yaxes(range=[0, 1.4], tickvals=y_ticks, ticktext=y_ticktext,
                 showgrid=False, zeroline=False, showline=True, linecolor="black", linewidth=1,
                 mirror="ticks", ticks="inside", ticklen=9, tickcolor="black", tickwidth=1,
                 automargin=False, ticklabelstandoff=3,
                 tickfont=dict(family=FONT, size=24, color="black"),
                 title=dict(text="Pozisyon Hatasi [m]", font=dict(family=FONT, size=26, color="black"), standoff=16))

fig.write_html("out.html",
               config={"displayModeBar": False},
               post_script="document.body.style.margin='0';document.body.style.padding='0';document.body.style.overflow='hidden';")
